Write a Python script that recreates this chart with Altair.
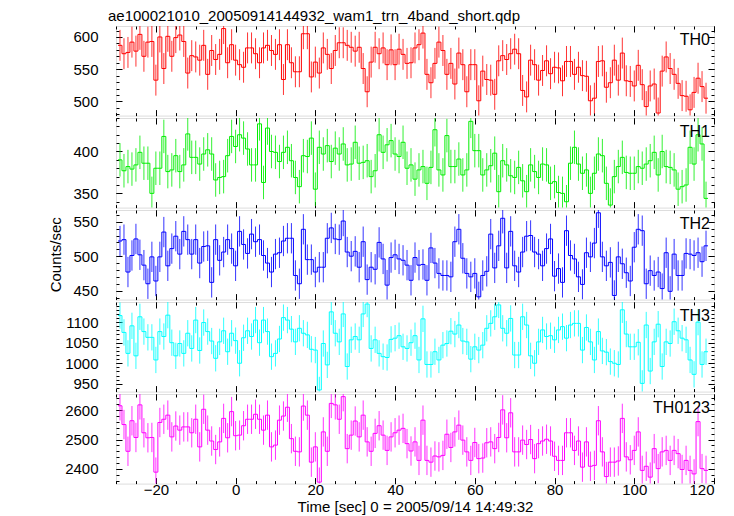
import altair as alt
import pandas as pd

FONT = "Liberation Sans"

# time of first bin centre (s) and bin width (s)
t_first = -29
bin_w = 1.0

th0 = [587, 574, 576, 592, 578, 604, 570, 592, 593, 533,
       600, 551, 601, 570, 599, 603, 593, 544, 571, 569,
       564, 587, 542, 579, 565, 573, 613, 560, 588, 564,
       557, 553, 583, 583, 574, 560, 583, 587, 579, 573,
       588, 534, 588, 560, 546, 546, 605, 605, 538, 561,
       544, 583, 573, 551, 579, 591, 591, 587, 584, 578,
       584, 551, 515, 561, 584, 574, 583, 557, 580, 557,
       581, 573, 559, 560, 583, 588, 606, 542, 529, 559,
       592, 579, 542, 559, 527, 575, 557, 515, 557, 557,
       501, 547, 534, 533, 511, 563, 571, 565, 574, 581,
       574, 517, 507, 564, 557, 533, 548, 563, 543, 553,
       552, 532, 562, 562, 542, 553, 540, 539, 501, 505,
       562, 563, 522, 529, 564, 533, 575, 532, 531, 524,
       556, 526, 492, 524, 527, 482, 547, 569, 551, 542,
       528, 509, 508, 487, 514, 536, 523, 505]

th1 = [390, 377, 382, 379, 384, 399, 386, 386, 350, 380,
       380, 418, 376, 378, 395, 376, 384, 421, 393, 393,
       385, 397, 402, 397, 366, 369, 370, 395, 418, 406,
       420, 416, 403, 384, 384, 433, 363, 428, 400, 399,
       388, 399, 405, 389, 369, 358, 395, 394, 416, 355,
       405, 397, 407, 388, 404, 397, 409, 384, 385, 411,
       386, 387, 389, 370, 377, 420, 399, 408, 413, 397,
       394, 411, 380, 384, 367, 378, 382, 362, 381, 426,
       378, 372, 419, 382, 382, 391, 372, 378, 436, 401,
       401, 372, 378, 383, 398, 352, 389, 384, 371, 369,
       381, 365, 352, 384, 376, 369, 385, 384, 362, 364,
       351, 350, 340, 386, 405, 385, 374, 378, 350, 374,
       397, 395, 362, 336, 370, 382, 393, 375, 374, 374,
       382, 380, 385, 389, 399, 372, 400, 382, 381, 378,
       355, 358, 360, 405, 385, 420, 409, 344]

th2 = [522, 524, 477, 501, 525, 502, 487, 460, 499, 464,
       499, 535, 486, 511, 529, 503, 536, 524, 503, 524,
       490, 514, 515, 462, 524, 494, 506, 524, 511, 486,
       536, 517, 504, 532, 521, 524, 501, 490, 477, 503,
       505, 522, 526, 526, 472, 460, 539, 495, 495, 477,
       484, 484, 526, 541, 525, 524, 551, 506, 500, 507,
       484, 521, 466, 484, 481, 520, 496, 458, 498, 502,
       496, 494, 487, 465, 498, 487, 488, 465, 512, 490,
       475, 472, 472, 470, 521, 539, 497, 475, 470, 475,
       441, 472, 478, 532, 483, 515, 555, 483, 536, 486,
       477, 506, 529, 530, 506, 503, 486, 511, 525, 471,
       482, 462, 537, 501, 496, 470, 459, 505, 499, 519,
       563, 499, 486, 491, 443, 499, 489, 476, 464, 513,
       539, 537, 460, 479, 472, 477, 453, 505, 449, 503,
       472, 472, 504, 503, 501, 505, 492, 515]

th3 = [1116, 1075, 1024, 1091, 1018, 1113, 1077, 1063, 1063, 1008,
       1077, 1065, 1117, 1050, 1018, 1048, 1024, 1073, 1036, 1105,
       1031, 1099, 1077, 1054, 1012, 1052, 1079, 1028, 1073, 1055,
       1000, 1062, 1079, 1065, 1105, 1050, 1105, 1077, 1016, 1024,
       1059, 1111, 1105, 1083, 1052, 1085, 1073, 1069, 1034, 1032,
       935, 1048, 996, 1125, 1073, 1052, 1120, 992, 1057, 1065,
       1057, 1120, 1144, 1036, 1057, 1024, 1016, 1014, 1058, 1061,
       1067, 1040, 1036, 1050, 1067, 1008, 1108, 997, 997, 1028,
       1008, 1044, 1048, 1078, 1071, 1093, 1054, 1052, 1010, 1040,
       1032, 1044, 1085, 1097, 1113, 1142, 1085, 1073, 1109, 1020,
       1020, 1113, 1093, 1018, 1000, 1052, 1081, 1065, 1067, 1057,
       1081, 1089, 1061, 1093, 1097, 1097, 1032, 1087, 1052, 1008,
       1077, 1030, 1027, 1004, 1000, 997, 1130, 1071, 1040, 1040,
       1051, 951, 1093, 981, 1052, 1095, 992, 1052, 1048, 1101,
       1079, 1061, 1057, 1008, 973, 1100, 997, 1028]

th0123 = [2615, 2551, 2460, 2564, 2507, 2618, 2523, 2506, 2507, 2389,
          2558, 2569, 2583, 2509, 2546, 2532, 2543, 2543, 2523, 2569,
          2475, 2603, 2532, 2495, 2466, 2492, 2572, 2506, 2595, 2513,
          2515, 2547, 2569, 2569, 2586, 2569, 2532, 2583, 2475, 2481,
          2566, 2580, 2610, 2503, 2460, 2458, 2614, 2583, 2423, 2475,
          2355, 2526, 2460, 2623, 2618, 2569, 2646, 2469, 2515, 2563,
          2509, 2583, 2492, 2460, 2521, 2547, 2515, 2463, 2509, 2523,
          2532, 2538, 2486, 2461, 2492, 2429, 2566, 2429, 2423, 2444,
          2441, 2446, 2518, 2473, 2526, 2549, 2498, 2458, 2429, 2490,
          2435, 2437, 2489, 2492, 2469, 2507, 2601, 2506, 2591, 2458,
          2458, 2498, 2483, 2500, 2435, 2486, 2495, 2501, 2495, 2443,
          2429, 2429, 2523, 2523, 2463, 2495, 2406, 2492, 2409, 2412,
          2564, 2458, 2374, 2423, 2423, 2427, 2572, 2441, 2431, 2463,
          2526, 2395, 2409, 2372, 2469, 2401, 2458, 2463, 2429, 2463,
          2452, 2398, 2429, 2395, 2383, 2561, 2401, 2395]

names = ["TH0", "TH1", "TH2", "TH3", "TH0123"]
series = [th0, th1, th2, th3, th0123]
errors = [24, 20, 22, 32, 50]
colors = ["#ff0000", "#00ee00", "#0000ff", "#00ffff", "#ff00ff"]
y_domains = [[478, 617], [333, 440], [437, 567], [931, 1149], [2350, 2655]]
y_major = [[500, 550, 600], [350, 400], [450, 500, 550],
           [950, 1000, 1050, 1100], [2400, 2500, 2600]]
y_minor_step = [10, 10, 10, 10, 20]

x_domain = [-30, 120]
x_major = [-20, 0, 20, 40, 60, 80, 100, 120]
x_minor = list(range(-30, 121, 5))

title_text = "ae100021010_20050914144932_wam1_trn_4band_short.qdp"
x_title = "Time [sec] 0 = 2005/09/14 14:49:32"
y_title = "Counts/sec"

W, H = 598, 89.6
MAJ, MIN = 6, 3


def ax(orient, values, size, labels=False, title=None, pad=4):
    kw = dict(orient=orient, values=values, tickSize=size, offset=-size,
              domain=False, grid=False, labels=labels, ticks=True, format="d",
              tickColor="#000", tickWidth=1, labelFont=FONT, labelFontSize=15,
              labelColor="#000", labelPadding=pad)
    if title is not None:
        kw.update(title=title, titleFont=FONT, titleFontSize=15,
                  titleFontWeight="normal", titleColor="#000", titlePadding=2)
    else:
        kw.update(title=None)
    return alt.Axis(**kw)


panels = []
for i, (name, vals, err, col, dom, ymaj, ystep) in enumerate(
        zip(names, series, errors, colors, y_domains, y_major, y_minor_step)):
    n = len(vals)
    t = [t_first + k * bin_w for k in range(n)]
    pts = pd.DataFrame({"t": t, "v": vals})
    pts["lo"] = pts["v"] - err
    pts["hi"] = pts["v"] + err
    steps = pd.DataFrame({"e": [x - bin_w / 2 for x in t] + [t[-1] + bin_w / 2],
                          "v": vals + [vals[-1]]})
    ymin = list(range(int(dom[0] // ystep * ystep), int(dom[1]) + 1, ystep))
    xs = alt.Scale(domain=x_domain, nice=False, zero=False)
    ys = alt.Scale(domain=dom, nice=False, zero=False)
    bottom = i == len(names) - 1

    step = alt.Chart(steps).mark_line(
        interpolate="step-after", color=col, strokeWidth=1, clip=True
    ).encode(
        x=alt.X("e:Q", scale=xs,
                axis=ax("bottom", x_major, MAJ, labels=bottom,
                        title=x_title if bottom else None, pad=-1)),
        y=alt.Y("v:Q", scale=ys, axis=ax("left", ymaj, MAJ, labels=True, pad=18)),
    )
    bars = alt.Chart(pts).mark_rule(color=col, strokeWidth=1, opacity=0.8, clip=True).encode(
        x=alt.X("t:Q", scale=xs, axis=ax("bottom", x_minor, MIN)),
        y=alt.Y("lo:Q", scale=ys, axis=ax("left", ymin, MIN)),
        y2="hi:Q",
    )
    ghost1 = alt.Chart(pts).mark_point(opacity=0, size=1).encode(
        x=alt.X("t:Q", scale=xs, axis=ax("top", x_major, MAJ)),
        y=alt.Y("v:Q", scale=ys, axis=ax("right", ymaj, MAJ)),
    )
    ghost2 = alt.Chart(pts).mark_point(opacity=0, size=1).encode(
        x=alt.X("t:Q", scale=xs, axis=ax("top", x_minor, MIN)),
        y=alt.Y("v:Q", scale=ys, axis=ax("right", ymin, MIN)),
    )
    label = alt.Chart(alt.Data(values=[{"name": name}])).mark_text(
        align="right", baseline="alphabetic", font=FONT, fontSize=16, color="#000"
    ).encode(x=alt.value(W - 4), y=alt.value(19), text="name:N")

    layers = [step, bars, ghost1, ghost2, label]
    if i == 0:
        layers.append(alt.Chart(alt.Data(values=[{"s": title_text}])).mark_text(
            align="left", baseline="alphabetic", font=FONT, fontSize=15, color="#000"
        ).encode(x=alt.value(-8), y=alt.value(-5), text="s:N"))
    if i == 2:
        layers.append(alt.Chart(alt.Data(values=[{"s": y_title}])).mark_text(
            align="center", baseline="middle", font=FONT, fontSize=15, color="#000",
            angle=270
        ).encode(x=alt.value(-60), y=alt.value(H / 2), text="s:N"))

    p = alt.layer(*layers).resolve_axis(x="independent", y="independent").properties(
        width=W, height=H)
    panels.append(p)

chart = alt.vconcat(*panels, spacing=0).properties(
    padding={"left": 40, "top": 0, "right": 5, "bottom": 0}
).configure_view(stroke="#222", strokeWidth=1.3).configure(background="white")

chart.save("out.html", embed_options={"renderer": "svg", "actions": False})
